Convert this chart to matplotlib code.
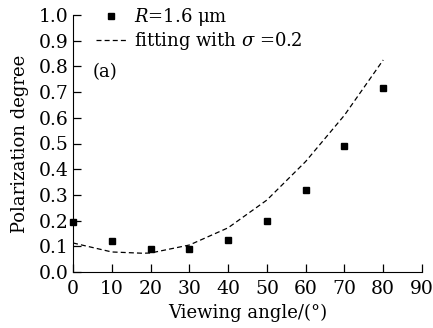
import matplotlib
matplotlib.use("Agg")
import matplotlib.pyplot as plt
import numpy as np

plt.rcParams["font.family"] = ["DejaVu Serif"]
plt.rcParams["mathtext.fontset"] = "dejavuserif"

# measured points, R = 1.6 um
angle = [0, 10, 20, 30, 40, 50, 60, 70, 80]
measured = [0.196, 0.122, 0.088, 0.088, 0.125, 0.200, 0.319, 0.489, 0.715]
# fitted curve, sigma = 0.2
fit_angle = [0, 10, 18, 20, 30, 40, 50, 60, 70, 80]
fit_value = [0.113, 0.078, 0.073, 0.074, 0.105, 0.172, 0.280, 0.430, 0.610, 0.825]

fig = plt.figure(figsize=(4.33, 3.28), dpi=100)
ax = fig.add_axes([0.1686, 0.1707, 0.806, 0.7836])

ax.plot(angle, measured, "s", color="black", markersize=5, label="$R$=1.6 μm", clip_on=False)
ax.plot(fit_angle, fit_value, "--", color="black", linewidth=0.9, dashes=(4, 2.5),
        label="fitting with $\\sigma$ =0.2")

ax.set_xlim(0, 90)
ax.set_ylim(0, 1.0)
ax.set_xticks(np.arange(0, 91, 10))
ax.set_yticks(np.arange(0, 1.01, 0.1))
ax.set_yticklabels([f"{v:.1f}" for v in np.arange(0, 1.01, 0.1)])

ax.spines["top"].set_visible(False)
ax.spines["right"].set_visible(False)
ax.tick_params(direction="in", length=6, width=0.9, labelsize=13.5)
ax.tick_params(axis="x", pad=6)
ax.tick_params(axis="y", pad=3)

ax.set_xlabel("Viewing angle/(°)", fontsize=13, labelpad=4)
ax.set_ylabel("Polarization degree", fontsize=13, labelpad=7)

ax.legend(loc="upper left", frameon=False, fontsize=13, handlelength=1.7,
          handletextpad=0.4, borderaxespad=0.0, labelspacing=0.1,
          bbox_to_anchor=(0.045, 1.062))
ax.text(5, 0.778, "(a)", fontsize=13, va="center")

fig.savefig("out.png", dpi=100)
